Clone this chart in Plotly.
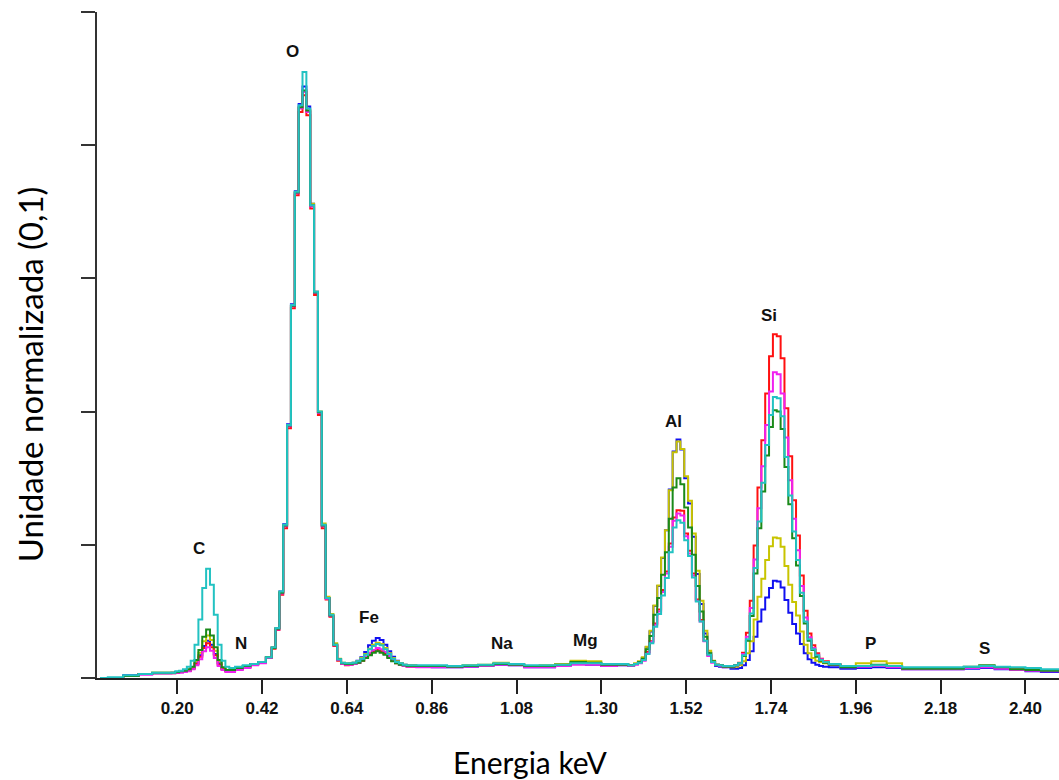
import plotly.graph_objects as go

# Channel centres (keV)
energy = [
    0.00, 0.04, 0.08, 0.12, 0.15,
    0.18, 0.19, 0.20, 0.21, 0.22, 0.23, 0.24, 0.25, 0.26, 0.27, 0.28, 0.29, 0.30, 0.31, 0.32, 0.33, 0.34,
    0.36, 0.38, 0.40, 0.42, 0.44,
    0.45, 0.46, 0.47, 0.48, 0.49, 0.50, 0.51, 0.52, 0.53, 0.54, 0.55, 0.56, 0.57, 0.58, 0.59, 0.60, 0.61, 0.62, 0.63,
    0.64, 0.65, 0.66, 0.67, 0.68, 0.69, 0.70, 0.71, 0.72, 0.73, 0.74, 0.75, 0.76, 0.77, 0.78, 0.79, 0.80,
    0.84, 0.88, 0.92, 0.96, 1.00, 1.04, 1.08, 1.12, 1.16, 1.20, 1.24, 1.28, 1.32, 1.36,
    1.38, 1.39, 1.40, 1.41, 1.42, 1.43, 1.44, 1.45, 1.46, 1.47, 1.48, 1.49, 1.50, 1.51, 1.52, 1.53, 1.54,
    1.55, 1.56, 1.57, 1.58, 1.59, 1.60, 1.61, 1.62,
    1.63, 1.64, 1.65, 1.66, 1.67, 1.68, 1.69, 1.70, 1.71, 1.72, 1.73, 1.74, 1.75, 1.76, 1.77, 1.78, 1.79,
    1.80, 1.81, 1.82, 1.83, 1.84, 1.85, 1.86, 1.87, 1.88,
    1.90, 1.94, 1.98, 2.02, 2.06, 2.10, 2.14, 2.18, 2.22, 2.26, 2.30, 2.34, 2.38, 2.42, 2.46, 2.49,
]

red = [
    0.000, 0.000, 0.003, 0.006, 0.007,
    0.007, 0.007, 0.008, 0.009, 0.010, 0.011, 0.014, 0.021, 0.032, 0.045, 0.052, 0.046, 0.034, 0.020, 0.013, 0.010, 0.010,
    0.013, 0.016, 0.020, 0.023, 0.030,
    0.044, 0.072, 0.125, 0.225, 0.375, 0.555, 0.725, 0.850, 0.875, 0.845, 0.705, 0.575, 0.395, 0.225, 0.118, 0.092, 0.048, 0.026, 0.021,
    0.019, 0.020, 0.021, 0.023, 0.026, 0.030, 0.036, 0.040, 0.042, 0.040, 0.036, 0.031, 0.026, 0.022, 0.020, 0.018, 0.017,
    0.017, 0.017, 0.017, 0.018, 0.019, 0.021, 0.020, 0.017, 0.017, 0.019, 0.021, 0.021, 0.019, 0.020,
    0.019, 0.021, 0.023, 0.027, 0.039, 0.055, 0.082, 0.103, 0.132, 0.160, 0.202, 0.241, 0.252, 0.251, 0.217, 0.191, 0.157,
    0.118, 0.087, 0.056, 0.034, 0.024, 0.020, 0.019, 0.017,
    0.017, 0.017, 0.019, 0.023, 0.038, 0.068, 0.116, 0.199, 0.286, 0.357, 0.427, 0.483, 0.516, 0.513, 0.480, 0.405, 0.333,
    0.267, 0.214, 0.154, 0.101, 0.067, 0.049, 0.037, 0.029, 0.025,
    0.021, 0.017, 0.018, 0.019, 0.017, 0.014, 0.014, 0.014, 0.014, 0.016, 0.017, 0.015, 0.013, 0.012, 0.011, 0.011,
]

magenta = [
    0.000, 0.000, 0.003, 0.005, 0.007,
    0.007, 0.007, 0.008, 0.008, 0.009, 0.010, 0.013, 0.019, 0.028, 0.040, 0.046, 0.041, 0.030, 0.018, 0.012, 0.009, 0.009,
    0.012, 0.015, 0.019, 0.022, 0.030,
    0.045, 0.073, 0.127, 0.228, 0.378, 0.558, 0.728, 0.855, 0.880, 0.850, 0.708, 0.578, 0.398, 0.228, 0.119, 0.093, 0.049, 0.027, 0.021,
    0.020, 0.020, 0.021, 0.023, 0.027, 0.032, 0.038, 0.042, 0.045, 0.043, 0.039, 0.033, 0.027, 0.023, 0.020, 0.018, 0.017,
    0.016, 0.016, 0.016, 0.017, 0.018, 0.020, 0.019, 0.016, 0.016, 0.018, 0.020, 0.020, 0.018, 0.019,
    0.018, 0.020, 0.022, 0.026, 0.037, 0.054, 0.080, 0.100, 0.129, 0.157, 0.197, 0.236, 0.247, 0.244, 0.213, 0.187, 0.154,
    0.116, 0.085, 0.055, 0.033, 0.023, 0.019, 0.018, 0.016,
    0.017, 0.017, 0.019, 0.022, 0.036, 0.062, 0.105, 0.178, 0.255, 0.318, 0.380, 0.430, 0.459, 0.456, 0.427, 0.361, 0.297,
    0.239, 0.192, 0.138, 0.091, 0.061, 0.045, 0.035, 0.028, 0.024,
    0.020, 0.016, 0.017, 0.018, 0.016, 0.013, 0.013, 0.013, 0.013, 0.015, 0.016, 0.014, 0.012, 0.011, 0.010, 0.010,
]

cyan = [
    0.000, 0.001, 0.004, 0.006, 0.008,
    0.008, 0.008, 0.010, 0.011, 0.013, 0.017, 0.026, 0.050, 0.088, 0.135, 0.164, 0.140, 0.095, 0.050, 0.026, 0.017, 0.015,
    0.017, 0.019, 0.021, 0.024, 0.031,
    0.046, 0.075, 0.130, 0.230, 0.380, 0.560, 0.730, 0.860, 0.910, 0.855, 0.710, 0.580, 0.400, 0.230, 0.120, 0.095, 0.050, 0.028, 0.023,
    0.022, 0.022, 0.023, 0.025, 0.029, 0.035, 0.043, 0.048, 0.051, 0.049, 0.043, 0.036, 0.029, 0.024, 0.022, 0.020, 0.019,
    0.019, 0.019, 0.018, 0.019, 0.020, 0.022, 0.021, 0.019, 0.019, 0.020, 0.022, 0.022, 0.021, 0.021,
    0.019, 0.021, 0.023, 0.027, 0.036, 0.052, 0.077, 0.096, 0.124, 0.150, 0.189, 0.226, 0.237, 0.233, 0.207, 0.183, 0.151,
    0.115, 0.085, 0.056, 0.035, 0.024, 0.020, 0.019, 0.018,
    0.018, 0.018, 0.019, 0.022, 0.034, 0.058, 0.097, 0.165, 0.235, 0.293, 0.350, 0.395, 0.422, 0.420, 0.393, 0.332, 0.274,
    0.220, 0.177, 0.128, 0.085, 0.058, 0.043, 0.034, 0.027, 0.024,
    0.021, 0.018, 0.018, 0.019, 0.018, 0.016, 0.016, 0.016, 0.016, 0.017, 0.018, 0.017, 0.016, 0.015, 0.013, 0.013,
]

green = [
    0.000, 0.000, 0.003, 0.006, 0.008,
    0.008, 0.008, 0.009, 0.010, 0.011, 0.013, 0.017, 0.027, 0.042, 0.062, 0.073, 0.064, 0.046, 0.027, 0.016, 0.012, 0.012,
    0.015, 0.018, 0.021, 0.024, 0.031,
    0.045, 0.074, 0.128, 0.229, 0.379, 0.559, 0.729, 0.857, 0.882, 0.852, 0.710, 0.579, 0.399, 0.229, 0.120, 0.094, 0.050, 0.028, 0.022,
    0.021, 0.021, 0.022, 0.023, 0.026, 0.030, 0.034, 0.038, 0.040, 0.038, 0.035, 0.030, 0.025, 0.022, 0.020, 0.019, 0.018,
    0.018, 0.018, 0.017, 0.018, 0.019, 0.021, 0.020, 0.018, 0.018, 0.020, 0.024, 0.023, 0.020, 0.020,
    0.019, 0.021, 0.024, 0.029, 0.043, 0.063, 0.095, 0.120, 0.155, 0.189, 0.239, 0.286, 0.300, 0.291, 0.256, 0.226, 0.185,
    0.138, 0.100, 0.062, 0.037, 0.025, 0.020, 0.019, 0.017,
    0.017, 0.017, 0.019, 0.022, 0.033, 0.056, 0.093, 0.157, 0.225, 0.280, 0.334, 0.377, 0.402, 0.400, 0.374, 0.317, 0.261,
    0.210, 0.169, 0.123, 0.082, 0.056, 0.042, 0.032, 0.026, 0.023,
    0.020, 0.016, 0.018, 0.020, 0.018, 0.014, 0.014, 0.014, 0.014, 0.017, 0.019, 0.016, 0.013, 0.012, 0.011, 0.011,
]

yellow = [
    0.000, 0.000, 0.003, 0.006, 0.008,
    0.008, 0.008, 0.009, 0.010, 0.011, 0.012, 0.016, 0.025, 0.038, 0.055, 0.064, 0.057, 0.041, 0.025, 0.015, 0.012, 0.012,
    0.015, 0.018, 0.021, 0.024, 0.031,
    0.046, 0.075, 0.129, 0.229, 0.379, 0.559, 0.729, 0.856, 0.880, 0.852, 0.712, 0.580, 0.400, 0.232, 0.122, 0.096, 0.052, 0.029, 0.023,
    0.022, 0.022, 0.023, 0.025, 0.030, 0.036, 0.044, 0.050, 0.053, 0.051, 0.045, 0.037, 0.030, 0.025, 0.022, 0.020, 0.019,
    0.018, 0.018, 0.018, 0.019, 0.020, 0.023, 0.021, 0.018, 0.019, 0.021, 0.026, 0.025, 0.021, 0.021,
    0.019, 0.022, 0.025, 0.031, 0.047, 0.071, 0.109, 0.139, 0.181, 0.222, 0.282, 0.339, 0.355, 0.344, 0.303, 0.266, 0.217,
    0.161, 0.116, 0.071, 0.041, 0.026, 0.020, 0.019, 0.017,
    0.017, 0.016, 0.017, 0.019, 0.025, 0.037, 0.055, 0.088, 0.122, 0.149, 0.177, 0.198, 0.211, 0.210, 0.197, 0.168, 0.140,
    0.114, 0.094, 0.070, 0.050, 0.037, 0.030, 0.026, 0.024, 0.022,
    0.020, 0.017, 0.022, 0.025, 0.022, 0.015, 0.014, 0.014, 0.014, 0.016, 0.017, 0.015, 0.013, 0.012, 0.011, 0.011,
]

blue = [
    0.000, 0.000, 0.004, 0.006, 0.007,
    0.007, 0.008, 0.008, 0.009, 0.010, 0.011, 0.015, 0.022, 0.034, 0.048, 0.056, 0.050, 0.036, 0.022, 0.014, 0.011, 0.011,
    0.014, 0.017, 0.021, 0.024, 0.031,
    0.046, 0.075, 0.130, 0.231, 0.381, 0.561, 0.731, 0.862, 0.888, 0.858, 0.712, 0.580, 0.399, 0.229, 0.120, 0.094, 0.050, 0.028, 0.022,
    0.021, 0.022, 0.023, 0.026, 0.031, 0.039, 0.049, 0.056, 0.060, 0.057, 0.050, 0.040, 0.032, 0.026, 0.022, 0.020, 0.019,
    0.017, 0.016, 0.016, 0.017, 0.018, 0.020, 0.019, 0.016, 0.016, 0.018, 0.021, 0.020, 0.018, 0.019,
    0.018, 0.021, 0.024, 0.030, 0.046, 0.070, 0.108, 0.138, 0.180, 0.222, 0.283, 0.340, 0.358, 0.343, 0.300, 0.262, 0.212,
    0.156, 0.111, 0.067, 0.038, 0.024, 0.018, 0.017, 0.016,
    0.016, 0.014, 0.014, 0.015, 0.019, 0.027, 0.040, 0.062, 0.085, 0.103, 0.121, 0.135, 0.146, 0.145, 0.136, 0.117, 0.098,
    0.081, 0.067, 0.051, 0.037, 0.028, 0.023, 0.020, 0.018, 0.017,
    0.016, 0.014, 0.015, 0.016, 0.015, 0.013, 0.013, 0.013, 0.013, 0.014, 0.015, 0.013, 0.012, 0.010, 0.009, 0.009,
]

series = [
    ("blue", blue, "#1010F0"),
    ("yellow", yellow, "#C8C400"),
    ("red", red, "#FF1010"),
    ("magenta", magenta, "#F020F0"),
    ("green", green, "#1A8A1A"),
    ("cyan", cyan, "#22C2C2"),
]

tick_vals = [0.20, 0.42, 0.64, 0.86, 1.08, 1.30, 1.52, 1.74, 1.96, 2.18, 2.40]
tick_text = ["0.20", "0.42", "0.64", "0.86", "1.08", "1.30", "1.52", "1.74", "1.96", "2.18", "2.40"]
y_ticks = [0.0, 0.2, 0.4, 0.6, 0.8, 1.0]

element_labels = ["O", "C", "N", "Fe", "Na", "Mg", "Al", "Si", "P", "S"]
element_x = [0.498, 0.257, 0.366, 0.698, 1.043, 1.258, 1.486, 1.735, 1.997, 2.295]
element_y = [0.940, 0.195, 0.052, 0.091, 0.052, 0.056, 0.385, 0.544, 0.052, 0.044]

fig = go.Figure()
for name, vals, color in series:
    assert len(vals) == len(energy), name
    fig.add_trace(go.Scatter(
        x=energy, y=vals, mode="lines", name=name,
        line=dict(color=color, width=2, shape="hvh"),
        hoverinfo="skip",
    ))

for lab, ex, ey in zip(element_labels, element_x, element_y):
    fig.add_annotation(
        x=ex, y=ey, xref="x", yref="y", text="<b>%s</b>" % lab, showarrow=False,
        font=dict(family="Arial, Liberation Sans, sans-serif", size=17, color="#111"),
        xanchor="center", yanchor="middle",
    )

fig.add_annotation(
    x=0.450, y=-0.126, xref="paper", yref="paper", text="Energia keV", showarrow=False,
    font=dict(family="Lato, Open Sans, sans-serif", size=30, color="black"),
    xanchor="center", yanchor="middle",
)
fig.add_annotation(
    x=-0.0696, y=0.456, xref="paper", yref="paper", text="Unidade normalizada (0,1)",
    showarrow=False, textangle=-90,
    font=dict(family="Lato, Open Sans, sans-serif", size=33, color="black"),
    xanchor="center", yanchor="middle",
)

fig.update_layout(
    width=1059, height=780,
    margin=dict(l=97, r=0, t=12, b=102),
    plot_bgcolor="white", paper_bgcolor="white",
    showlegend=False,
    xaxis=dict(
        range=[-0.008, 2.487], tickvals=tick_vals, ticktext=tick_text,
        ticks="outside", ticklen=14, tickwidth=2, tickcolor="#222",
        showline=True, linecolor="#222", linewidth=2,
        showgrid=False, zeroline=False,
        tickfont=dict(family="Arial, Liberation Sans, sans-serif", size=17, color="#111", weight="bold"),
    ),
    yaxis=dict(
        range=[0, 1], tickvals=y_ticks, showticklabels=False,
        ticks="outside", ticklen=14, tickwidth=2, tickcolor="#333",
        showline=True, linecolor="#333", linewidth=2,
        showgrid=False, zeroline=False,
    ),
)

fig.write_html("out.html", config={"displayModeBar": False})
